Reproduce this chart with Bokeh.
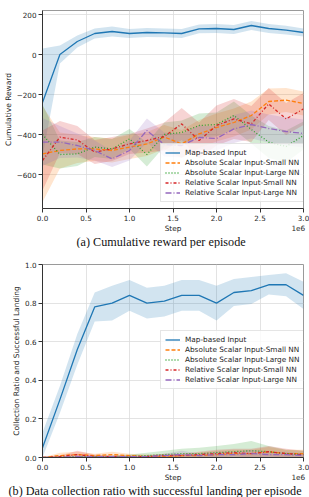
import numpy as np
from bokeh.plotting import figure
from bokeh.models import (FixedTicker, PrintfTickFormatter, Legend, LegendItem, Range1d,
                          LinearAxis, Title)
from bokeh.layouts import column
from bokeh.embed import file_html
from bokeh.resources import INLINE

# ---------------- data ----------------
steps = [0.0, 0.2, 0.4, 0.6, 0.8, 1.0, 1.2, 1.4, 1.6, 1.8, 2.0, 2.2, 2.4, 2.6, 2.8, 3.0]  # x 1e6

series_names = ["Map-based Input", "Absolute Scalar Input-Small NN", "Absolute Scalar Input-Large NN",
                "Relative Scalar Input-Small NN", "Relative Scalar Input-Large NN"]

# (a) cumulative reward: mean and spread
reward_map = [-240, 0, 65, 105, 115, 105, 110, 108, 105, 128, 130, 125, 145, 130, 122, 110]
reward_map_std = [270, 45, 30, 25, 25, 22, 22, 22, 22, 22, 22, 22, 22, 22, 22, 20]
reward_abs_small = [-497, -480, -472, -472, -480, -463, -447, -413, -447, -397, -365, -340, -305, -235, -228, -245]
reward_abs_small_std = [240, 90, 70, 60, 60, 60, 60, 60, 70, 70, 70, 70, 70, 65, 60, 60]
reward_abs_large = [-400, -500, -497, -463, -472, -422, -500, -400, -390, -355, -350, -305, -375, -438, -460, -405]
reward_abs_large_std = [150, 70, 60, 50, 50, 50, 60, 60, 60, 60, 60, 70, 70, 80, 80, 70]
reward_rel_small = [-530, -413, -427, -488, -472, -447, -430, -410, -347, -430, -355, -322, -347, -247, -322, -272]
reward_rel_small_std = [150, 80, 70, 60, 60, 50, 60, 70, 80, 90, 100, 100, 90, 80, 80, 80]
reward_rel_large = [-438, -438, -455, -480, -522, -480, -380, -450, -455, -415, -420, -372, -350, -370, -385, -395]
reward_rel_large_std = [120, 80, 60, 50, 40, 50, 60, 60, 60, 60, 60, 70, 70, 70, 70, 70]

# (b) data collection ratio with successful landing
ratio_map = [0.05, 0.30, 0.56, 0.78, 0.80, 0.84, 0.80, 0.81, 0.84, 0.84, 0.80, 0.855, 0.865, 0.895, 0.895, 0.84]
ratio_map_std = [0.08, 0.07, 0.08, 0.075, 0.09, 0.08, 0.08, 0.08, 0.08, 0.08, 0.09, 0.07, 0.07, 0.05, 0.06, 0.07]
ratio_abs_small = [0.0, 0.01, 0.015, 0.01, 0.015, 0.01, 0.005, 0.005, 0.01, 0.01, 0.015, 0.02, 0.02, 0.03, 0.02, 0.02]
ratio_abs_small_std = [0.0, 0.015, 0.015, 0.01, 0.015, 0.01, 0.01, 0.01, 0.01, 0.015, 0.02, 0.02, 0.02, 0.025, 0.02, 0.02]
ratio_abs_large = [0.0, 0.0, 0.005, 0.005, 0.005, 0.005, 0.01, 0.015, 0.02, 0.02, 0.025, 0.03, 0.035, 0.03, 0.02, 0.015]
ratio_abs_large_std = [0.0, 0.005, 0.005, 0.005, 0.005, 0.01, 0.015, 0.02, 0.025, 0.03, 0.035, 0.04, 0.05, 0.03, 0.02, 0.02]
ratio_rel_small = [0.0, 0.005, 0.015, 0.005, 0.005, 0.005, 0.005, 0.01, 0.01, 0.015, 0.02, 0.025, 0.02, 0.03, 0.02, 0.015]
ratio_rel_small_std = [0.0, 0.005, 0.02, 0.01, 0.005, 0.005, 0.005, 0.01, 0.01, 0.015, 0.02, 0.02, 0.025, 0.03, 0.025, 0.02]
ratio_rel_large = [0.0, 0.0, 0.005, 0.005, 0.005, 0.005, 0.005, 0.01, 0.015, 0.01, 0.015, 0.015, 0.02, 0.015, 0.015, 0.01]
ratio_rel_large_std = [0.0, 0.005, 0.005, 0.005, 0.005, 0.005, 0.005, 0.01, 0.02, 0.01, 0.015, 0.015, 0.02, 0.015, 0.015, 0.01]

x_ticks = [0.0, 0.5, 1.0, 1.5, 2.0, 2.5, 3.0]
reward_ticks = [-600, -400, -200, 0, 200]
ratio_ticks = [0.0, 0.2, 0.4, 0.6, 0.8, 1.0]
x_label = "Step"
x_offset_text = "1e6"

colors = ["#1f77b4", "#ff7f0e", "#2ca02c", "#d62728", "#9467bd"]
dashes = ["solid", "4 2", "1 2", "3 2 1 2", "6 2 1 2"]

FONT = "DejaVu Sans"
TXT = "#262626"


def make_fig(height, top, bottom, yr, yticks, ylabels, ylabel, means, stds, clip0, legend_y, caption, cap_off, cap_standoff):
    p = figure(width=309, height=height, output_backend="svg", toolbar_location=None,
               x_range=Range1d(0, 3.0), y_range=Range1d(*yr),
               min_border_left=37, min_border_right=6, min_border_top=top, min_border_bottom=bottom)
    p.background_fill_color = "white"
    p.border_fill_color = "white"
    p.outline_line_color = "#9a9a9a"
    p.outline_line_width = 1
    p.grid.grid_line_color = "#dcdcdc"
    p.grid.grid_line_width = 0.8

    ax1 = p.xaxis[0]
    ay = p.yaxis[0]
    ax1.ticker = FixedTicker(ticks=x_ticks, minor_ticks=[])
    ax1.formatter = PrintfTickFormatter(format="%.1f")
    ay.ticker = FixedTicker(ticks=yticks, minor_ticks=[])
    ay.major_label_overrides = dict(zip(yticks, ylabels))
    for ax in (ax1, ay):
        ax.axis_line_color = "#333333"
        ax.major_tick_line_color = "#333333"
        ax.major_tick_in = 0
        ax.major_tick_out = 4
        ax.minor_tick_line_color = None
        ax.major_label_text_font = FONT
        ax.major_label_text_font_size = "7.2px"
        ax.major_label_text_color = TXT
        ax.major_label_standoff = 2
    ay.axis_label = ylabel
    ay.axis_label_text_font = FONT
    ay.axis_label_text_font_style = "normal"
    ay.axis_label_text_color = TXT
    ay.axis_label_text_font_size = "7.5px"
    ay.axis_label_standoff = 1

    # second, tick-less axis carrying "Step" and the "1e6" offset text on one line
    ax2 = LinearAxis(ticker=FixedTicker(ticks=[1.5, 2.94], minor_ticks=[]),
                     major_label_overrides={1.5: x_label, 2.94: x_offset_text})
    ax2.axis_line_color = None
    ax2.major_tick_line_color = None
    ax2.major_tick_in = 0
    ax2.major_tick_out = 0
    ax2.minor_tick_line_color = None
    ax2.major_label_standoff = 0
    ax2.major_label_text_font = FONT
    ax2.major_label_text_font_size = "7.3px"
    ax2.major_label_text_color = TXT
    p.add_layout(ax2, "below")

    x = np.array(steps)
    for m, s, c in zip(means, stds, colors):
        m = np.array(m, dtype=float)
        s = np.array(s, dtype=float)
        lo = m - s
        if clip0:
            lo = np.maximum(lo, 0.0)
        p.varea(x=x, y1=lo, y2=m + s, fill_color=c, fill_alpha=0.2)
    items = []
    for m, c, d, n in zip(means, colors, dashes, series_names):
        r = p.line(x, m, line_color=c, line_width=1.3, line_dash=d)
        items.append(LegendItem(label=n, renderers=[r]))

    leg = Legend(items=items, location=(118, legend_y))
    leg.label_text_font = FONT
    leg.label_text_font_size = "7.3px"
    leg.label_text_color = TXT
    leg.glyph_width = 15
    leg.glyph_height = 9
    leg.label_height = 9
    leg.spacing = 1
    leg.padding = 4
    leg.margin = 0
    leg.label_standoff = 5
    leg.border_line_color = "#cccccc"
    leg.background_fill_alpha = 0.8
    p.add_layout(leg)

    t = Title(text=caption, align="left", offset=cap_off, standoff=cap_standoff,
              text_font="Liberation Serif", text_font_size="12.2px", text_font_style="normal",
              text_color="#111111")
    p.add_layout(t, "below")
    return p


p1 = make_fig(248, 10, 40, (-770, 220), reward_ticks, ["\u2212600", "\u2212400", "\u2212200", "0", "200"],
              "Cumulative Reward",
              [reward_map, reward_abs_small, reward_abs_large, reward_rel_small, reward_rel_large],
              [reward_map_std, reward_abs_small_std, reward_abs_large_std, reward_rel_small_std, reward_rel_large_std],
              False, 6, "(a) Cumulative reward per episode", 34, -6)

p2 = make_fig(249, 16, 40, (0.0, 1.0), ratio_ticks, ["0.0", "0.2", "0.4", "0.6", "0.8", "1.0"],
              "Collection Ratio and Successful Landing",
              [ratio_map, ratio_abs_small, ratio_abs_large, ratio_rel_small, ratio_rel_large],
              [ratio_map_std, ratio_abs_small_std, ratio_abs_large_std, ratio_rel_small_std, ratio_rel_large_std],
              True, 68, "(b) Data collection ratio with successful landing per episode", -34, -6)

layout = column(p1, p2)
open("out.html", "w").write(file_html(layout, INLINE))
